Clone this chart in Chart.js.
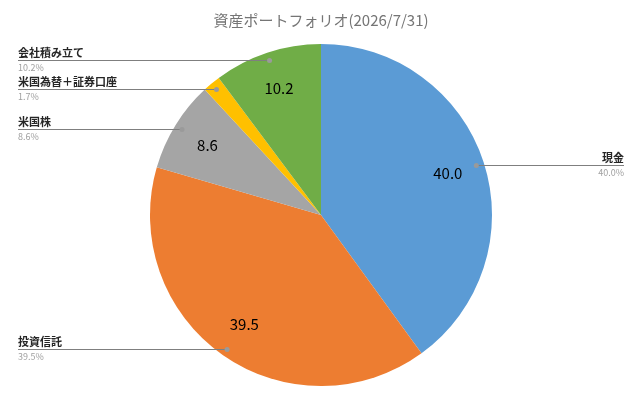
<!DOCTYPE html>
<html>
<head>
<meta charset="utf-8">
<script src="https://cdn.jsdelivr.net/npm/chart.js@4/dist/chart.umd.min.js"></script>
<style>
  body { margin: 0; background: #fff; }
  canvas { display: block; }
</style>
</head>
<body>
<canvas id="pieChart" width="637" height="401"></canvas>
<script>
// Data
const categories = ['現金', '投資信託', '米国株', '米国為替＋証券口座', '会社積み立て'];
const values = [40.0, 39.5, 8.6, 1.7, 10.2];
const sliceColors = ['#5B9BD5', '#ED7D31', '#A5A5A5', '#FFC000', '#70AD47'];
const titleText = '資産ポートフォリオ(2026/7/31)';

const JP_FONT = '"Noto Sans CJK JP", "Noto Sans", sans-serif';

// Value inside each slice + callout label with a leader line
const calloutPlugin = {
    id: 'callouts',
    afterDatasetsDraw(chart) {
        const ctx = chart.ctx;
        const meta = chart.getDatasetMeta(0);
        const total = values.reduce((a, b) => a + b, 0);

        meta.data.forEach((arc, i) => {
            const mid = (arc.startAngle + arc.endAngle) / 2;
            const r = arc.outerRadius;

            // value text inside the slice (tiny slice has none)
            if (values[i] >= 2) {
                ctx.save();
                ctx.font = '15px ' + JP_FONT;
                ctx.fillStyle = '#000';
                ctx.textAlign = 'center';
                ctx.textBaseline = 'middle';
                const lr = r * 0.78;
                ctx.fillText(values[i].toFixed(1), arc.x + Math.cos(mid) * lr, arc.y + Math.sin(mid) * lr);
                ctx.restore();
            }

            // dot near the rim and a horizontal leader
            const dx = arc.x + Math.cos(mid) * r * 0.955;
            const dy = Math.round(arc.y + Math.sin(mid) * r * 0.955) + 0.5;
            const right = Math.cos(mid) > 0;
            const endX = right ? 624 : 18;

            ctx.save();
            ctx.strokeStyle = '#7F7F7F';
            ctx.lineWidth = 1;
            ctx.beginPath();
            ctx.moveTo(dx, dy);
            ctx.lineTo(endX, dy);
            ctx.stroke();
            ctx.fillStyle = '#9A9A9A';
            ctx.beginPath();
            ctx.arc(dx, dy, 2.5, 0, Math.PI * 2);
            ctx.fill();

            ctx.textAlign = right ? 'right' : 'left';
            ctx.textBaseline = 'alphabetic';
            ctx.font = 'bold 11px ' + JP_FONT;
            ctx.fillStyle = '#262626';
            ctx.fillText(categories[i], endX, dy - 4);
            ctx.font = '9px ' + JP_FONT;
            ctx.fillStyle = '#A0A0A0';
            ctx.textBaseline = 'top';
            ctx.fillText((values[i] / total * 100).toFixed(1) + '%', endX, dy + 3);
            ctx.restore();
        });
    }
};

new Chart(document.getElementById('pieChart'), {
    type: 'pie',
    data: {
        labels: categories,
        datasets: [{
            data: values,
            backgroundColor: sliceColors,
            borderWidth: 0
        }]
    },
    options: {
        responsive: false,
        animation: false,
        layout: { padding: { left: 5, right: 0, top: 0, bottom: 15 } },
        plugins: {
            legend: { display: false },
            tooltip: { enabled: false },
            title: {
                display: true,
                text: titleText,
                color: '#757575',
                font: { family: JP_FONT, size: 15, weight: 'normal', lineHeight: 1.2 },
                padding: { top: 11, bottom: 15 }
            }
        }
    },
    plugins: [calloutPlugin]
});
</script>
</body>
</html>
